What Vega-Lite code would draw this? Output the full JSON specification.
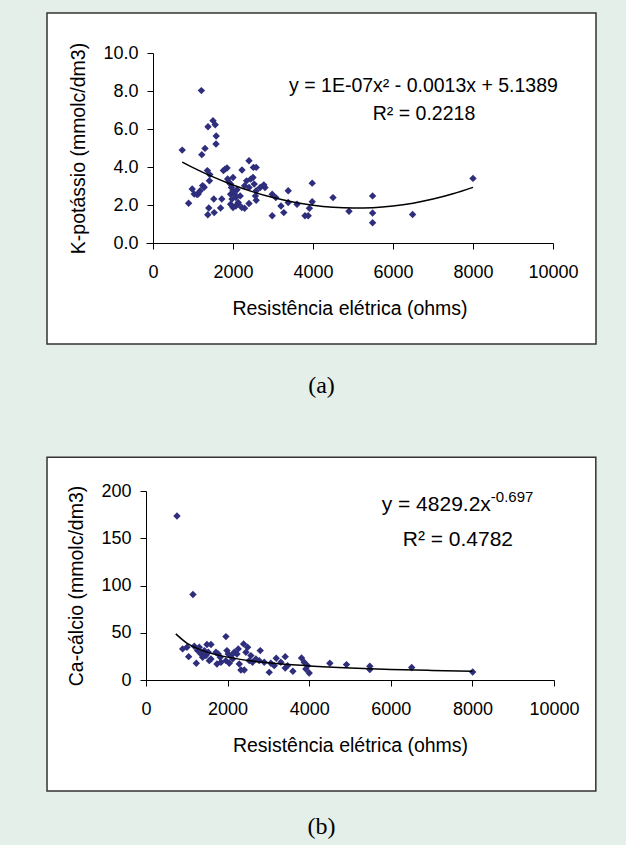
{
  "$schema": "https://vega.github.io/schema/vega-lite/v6.json",
  "background": "#e4efe9",
  "padding": {"left": 46, "top": 12, "right": 30, "bottom": 12},
  "autosize": {"type": "pad"},
  "config": {
    "view": {"stroke": null},
    "font": "Liberation Sans",
    "axis": {"grid": false, "domainColor": "#000000", "tickColor": "#000000", "labelColor": "#000000", "titleColor": "#000000", "labelFont": "Liberation Sans", "titleFont": "Liberation Sans", "labelFontSize": 18, "titleFontSize": 19.5, "titleFontWeight": "normal", "tickSize": 6, "domainWidth": 1, "tickWidth": 1, "labelOverlap": false, "labelFlush": false},
    "axisX": {"labelPadding": 14, "titlePadding": 18},
    "axisY": {"labelPadding": 9, "titlePadding": 14},
    "title": {"font": "Liberation Serif", "fontSize": 24, "fontWeight": "normal", "color": "#000000", "orient": "bottom", "anchor": "middle", "frame": "bounds"}
  },
  "spacing": 58,
  "vconcat": [
    {
      "width": 407,
      "height": 190,
      "title": {"text": "(a)", "offset": 29},
      "layer": [
        {
          "data": {"values": [{}]},
          "mark": {"type": "rect", "fill": "#ffffff", "stroke": "#333333", "strokeWidth": 1.5},
          "encoding": {
            "x": {"datum": -2650, "type": "quantitative", "scale": {"domain": [-175, 10000], "nice": false, "zero": false}, "axis": {"values": [0, 2000, 4000, 6000, 8000, 10000], "format": "d", "title": "Resistência elétrica (ohms)", "zindex": 1}},
            "x2": {"datum": 11075},
            "y": {"datum": 12.105, "type": "quantitative", "scale": {"domain": [0, 10], "nice": false}, "axis": {"values": [0, 2, 4, 6, 8, 10], "format": ".1f", "title": "K-potássio (mmolc/dm3)", "offset": -7, "zindex": 1}},
            "y2": {"datum": -5.316}
          }
        },
        {
          "data": {"values": [
            {"resistencia": 730, "k": 4.89}, {"resistencia": 890, "k": 2.09}, {"resistencia": 980, "k": 2.84}, {"resistencia": 1030, "k": 2.58},
            {"resistencia": 1100, "k": 2.55}, {"resistencia": 1130, "k": 2.58}, {"resistencia": 1180, "k": 2.75}, {"resistencia": 1210, "k": 8.02},
            {"resistencia": 1220, "k": 4.65}, {"resistencia": 1240, "k": 3.02}, {"resistencia": 1280, "k": 2.93}, {"resistencia": 1300, "k": 4.98},
            {"resistencia": 1360, "k": 3.81}, {"resistencia": 1375, "k": 6.12}, {"resistencia": 1370, "k": 1.49}, {"resistencia": 1395, "k": 1.84},
            {"resistencia": 1410, "k": 3.28}, {"resistencia": 1420, "k": 3.6}, {"resistencia": 1500, "k": 6.44}, {"resistencia": 1520, "k": 2.32},
            {"resistencia": 1530, "k": 1.6}, {"resistencia": 1555, "k": 6.22}, {"resistencia": 1580, "k": 5.63}, {"resistencia": 1575, "k": 5.21},
            {"resistencia": 1690, "k": 1.84}, {"resistencia": 1720, "k": 2.32}, {"resistencia": 1760, "k": 3.81}, {"resistencia": 1800, "k": 3.89},
            {"resistencia": 1850, "k": 3.95}, {"resistencia": 1866, "k": 3.37}, {"resistencia": 1900, "k": 3.2}, {"resistencia": 1940, "k": 3.1},
            {"resistencia": 1960, "k": 2.92}, {"resistencia": 2000, "k": 3.45}, {"resistencia": 2000, "k": 2.75}, {"resistencia": 1940, "k": 2.57},
            {"resistencia": 2040, "k": 2.57}, {"resistencia": 1975, "k": 2.31}, {"resistencia": 2070, "k": 2.39}, {"resistencia": 1940, "k": 2.04},
            {"resistencia": 2000, "k": 1.87}, {"resistencia": 2070, "k": 1.95}, {"resistencia": 2130, "k": 2.13}, {"resistencia": 2180, "k": 2.48},
            {"resistencia": 2100, "k": 2.8}, {"resistencia": 2130, "k": 2.05}, {"resistencia": 2225, "k": 3.84}, {"resistencia": 2220, "k": 1.87},
            {"resistencia": 2290, "k": 1.83}, {"resistencia": 2290, "k": 3.01}, {"resistencia": 2340, "k": 3.27}, {"resistencia": 2400, "k": 4.33},
            {"resistencia": 2400, "k": 2.92}, {"resistencia": 2400, "k": 2.08}, {"resistencia": 2440, "k": 3.36}, {"resistencia": 2500, "k": 3.45},
            {"resistencia": 2510, "k": 3.98}, {"resistencia": 2580, "k": 3.98}, {"resistencia": 2530, "k": 3.1}, {"resistencia": 2580, "k": 2.75},
            {"resistencia": 2560, "k": 2.48}, {"resistencia": 2580, "k": 2.25}, {"resistencia": 2680, "k": 2.92}, {"resistencia": 2770, "k": 3.06},
            {"resistencia": 2800, "k": 2.92}, {"resistencia": 2980, "k": 2.57}, {"resistencia": 3070, "k": 2.39}, {"resistencia": 2980, "k": 1.43},
            {"resistencia": 3200, "k": 1.95}, {"resistencia": 3270, "k": 1.6}, {"resistencia": 3380, "k": 2.75}, {"resistencia": 3380, "k": 2.13},
            {"resistencia": 3600, "k": 2.04}, {"resistencia": 3800, "k": 1.43}, {"resistencia": 3880, "k": 1.43}, {"resistencia": 3910, "k": 1.83},
            {"resistencia": 3980, "k": 3.15}, {"resistencia": 3980, "k": 2.17}, {"resistencia": 4500, "k": 2.39}, {"resistencia": 4900, "k": 1.67},
            {"resistencia": 5490, "k": 2.48}, {"resistencia": 5490, "k": 1.58}, {"resistencia": 5490, "k": 1.07}, {"resistencia": 6490, "k": 1.5},
            {"resistencia": 8000, "k": 3.4}
          ]},
          "mark": {"type": "point", "shape": "diamond", "filled": true, "color": "#2e2e7c", "size": 55, "opacity": 1},
          "encoding": {
            "x": {"field": "resistencia", "type": "quantitative", "scale": {"domain": [-175, 10000], "nice": false, "zero": false}, "axis": {"values": [0, 2000, 4000, 6000, 8000, 10000], "format": "d", "title": "Resistência elétrica (ohms)", "zindex": 1}},
            "y": {"field": "k", "type": "quantitative", "scale": {"domain": [0, 10], "nice": false}, "axis": {"values": [0, 2, 4, 6, 8, 10], "format": ".1f", "title": "K-potássio (mmolc/dm3)", "offset": -7, "zindex": 1}}
          }
        },
        {
          "data": {"values": [
            {"resistencia": 730, "k": 4.258}, {"resistencia": 1000, "k": 3.967}, {"resistencia": 1500, "k": 3.477}, {"resistencia": 2000, "k": 3.051},
            {"resistencia": 2500, "k": 2.689}, {"resistencia": 3000, "k": 2.391}, {"resistencia": 3500, "k": 2.157}, {"resistencia": 4000, "k": 1.987},
            {"resistencia": 4500, "k": 1.881}, {"resistencia": 5000, "k": 1.839}, {"resistencia": 5500, "k": 1.861}, {"resistencia": 6000, "k": 1.947},
            {"resistencia": 6500, "k": 2.097}, {"resistencia": 7000, "k": 2.311}, {"resistencia": 7500, "k": 2.589}, {"resistencia": 8000, "k": 2.931}
          ]},
          "mark": {"type": "line", "color": "#000000", "strokeWidth": 1.5, "interpolate": "monotone"},
          "encoding": {
            "x": {"field": "resistencia", "type": "quantitative", "scale": {"domain": [-175, 10000], "nice": false, "zero": false}, "axis": {"values": [0, 2000, 4000, 6000, 8000, 10000], "format": "d", "title": "Resistência elétrica (ohms)", "zindex": 1}},
            "y": {"field": "k", "type": "quantitative", "scale": {"domain": [0, 10], "nice": false}, "axis": {"values": [0, 2, 4, 6, 8, 10], "format": ".1f", "title": "K-potássio (mmolc/dm3)", "offset": -7, "zindex": 1}}
          }
        },
        {
          "data": {"values": [{}]},
          "mark": {"type": "text", "text": "y = 1E-07x² - 0.0013x + 5.1389", "font": "Liberation Sans", "fontSize": 19.5, "color": "#000000", "align": "center", "baseline": "middle"},
          "encoding": {
            "x": {"datum": 6762, "type": "quantitative", "scale": {"domain": [-175, 10000], "nice": false, "zero": false}, "axis": {"values": [0, 2000, 4000, 6000, 8000, 10000], "format": "d", "title": "Resistência elétrica (ohms)", "zindex": 1}},
            "y": {"datum": 8.26, "type": "quantitative", "scale": {"domain": [0, 10], "nice": false}, "axis": {"values": [0, 2, 4, 6, 8, 10], "format": ".1f", "title": "K-potássio (mmolc/dm3)", "offset": -7, "zindex": 1}}
          }
        },
        {
          "data": {"values": [{}]},
          "mark": {"type": "text", "text": "R² = 0.2218", "font": "Liberation Sans", "fontSize": 19.5, "color": "#000000", "align": "center", "baseline": "middle"},
          "encoding": {
            "x": {"datum": 6775, "type": "quantitative", "scale": {"domain": [-175, 10000], "nice": false, "zero": false}, "axis": {"values": [0, 2000, 4000, 6000, 8000, 10000], "format": "d", "title": "Resistência elétrica (ohms)", "zindex": 1}},
            "y": {"datum": 6.79, "type": "quantitative", "scale": {"domain": [0, 10], "nice": false}, "axis": {"values": [0, 2, 4, 6, 8, 10], "format": ".1f", "title": "K-potássio (mmolc/dm3)", "offset": -7, "zindex": 1}}
          }
        }
      ]
    },
    {
      "width": 408,
      "height": 189,
      "title": {"text": "(b)", "offset": 23},
      "layer": [
        {
          "data": {"values": [{}]},
          "mark": {"type": "rect", "fill": "#ffffff", "stroke": "#333333", "strokeWidth": 1.5},
          "encoding": {
            "x": {"datum": -2426, "type": "quantitative", "scale": {"domain": [0, 10000], "nice": false}, "axis": {"values": [0, 2000, 4000, 6000, 8000, 10000], "format": "d", "title": "Resistência elétrica (ohms)", "zindex": 1}},
            "x2": {"datum": 11025},
            "y": {"datum": 235.7, "type": "quantitative", "scale": {"domain": [0, 200], "nice": false}, "axis": {"values": [0, 50, 100, 150, 200], "format": "d", "title": "Ca-cálcio (mmolc/dm3)", "zindex": 1}},
            "y2": {"datum": -117.4}
          }
        },
        {
          "data": {"values": [
            {"resistencia": 759, "ca": 173.5}, {"resistencia": 1151, "ca": 90.5}, {"resistencia": 898, "ca": 32.9}, {"resistencia": 1004, "ca": 34.6},
            {"resistencia": 1045, "ca": 24.7}, {"resistencia": 1233, "ca": 17.7}, {"resistencia": 1184, "ca": 35.7}, {"resistencia": 1265, "ca": 31.1},
            {"resistencia": 1347, "ca": 27.6}, {"resistencia": 1429, "ca": 31.1}, {"resistencia": 1494, "ca": 37.5}, {"resistencia": 1592, "ca": 37.5},
            {"resistencia": 1388, "ca": 24}, {"resistencia": 1469, "ca": 25.8}, {"resistencia": 1551, "ca": 20.5}, {"resistencia": 1592, "ca": 22.3},
            {"resistencia": 1306, "ca": 34.6}, {"resistencia": 1527, "ca": 29.3}, {"resistencia": 1714, "ca": 29.3}, {"resistencia": 1771, "ca": 27.6},
            {"resistencia": 1739, "ca": 17}, {"resistencia": 1837, "ca": 18.7}, {"resistencia": 1820, "ca": 24}, {"resistencia": 1959, "ca": 45.9},
            {"resistencia": 1984, "ca": 31.1}, {"resistencia": 2016, "ca": 27.6}, {"resistencia": 1959, "ca": 20.5}, {"resistencia": 2041, "ca": 17.7},
            {"resistencia": 2082, "ca": 25.8}, {"resistencia": 2122, "ca": 22.3}, {"resistencia": 2163, "ca": 29.3}, {"resistencia": 2229, "ca": 27.6},
            {"resistencia": 2261, "ca": 32.9}, {"resistencia": 2286, "ca": 17}, {"resistencia": 2327, "ca": 10.6}, {"resistencia": 2408, "ca": 10.6},
            {"resistencia": 2392, "ca": 38.2}, {"resistencia": 2490, "ca": 34.6}, {"resistencia": 2449, "ca": 29.3}, {"resistencia": 2531, "ca": 20.5},
            {"resistencia": 2571, "ca": 25.8}, {"resistencia": 2612, "ca": 18.7}, {"resistencia": 2694, "ca": 22.3}, {"resistencia": 2800, "ca": 31.1},
            {"resistencia": 2775, "ca": 20.5}, {"resistencia": 2898, "ca": 18.7}, {"resistencia": 3020, "ca": 8.1}, {"resistencia": 3061, "ca": 17.7},
            {"resistencia": 3143, "ca": 15.2}, {"resistencia": 3192, "ca": 23}, {"resistencia": 3306, "ca": 18.7}, {"resistencia": 3412, "ca": 24.7},
            {"resistencia": 3412, "ca": 12.7}, {"resistencia": 3469, "ca": 15.2}, {"resistencia": 3600, "ca": 9.2}, {"resistencia": 3812, "ca": 23.3},
            {"resistencia": 3877, "ca": 18.7}, {"resistencia": 3918, "ca": 11.7}, {"resistencia": 3959, "ca": 15.2}, {"resistencia": 4000, "ca": 7.4},
            {"resistencia": 4506, "ca": 17.7}, {"resistencia": 4914, "ca": 16.3}, {"resistencia": 5486, "ca": 14.5}, {"resistencia": 5486, "ca": 11},
            {"resistencia": 6512, "ca": 13.3}, {"resistencia": 8007, "ca": 8.4}
          ]},
          "mark": {"type": "point", "shape": "diamond", "filled": true, "color": "#2e2e7c", "size": 55, "opacity": 1},
          "encoding": {
            "x": {"field": "resistencia", "type": "quantitative", "scale": {"domain": [0, 10000], "nice": false}, "axis": {"values": [0, 2000, 4000, 6000, 8000, 10000], "format": "d", "title": "Resistência elétrica (ohms)", "zindex": 1}},
            "y": {"field": "ca", "type": "quantitative", "scale": {"domain": [0, 200], "nice": false}, "axis": {"values": [0, 50, 100, 150, 200], "format": "d", "title": "Ca-cálcio (mmolc/dm3)", "zindex": 1}}
          }
        },
        {
          "data": {"values": [
            {"resistencia": 730, "ca": 48.8}, {"resistencia": 1000, "ca": 39.1}, {"resistencia": 1250, "ca": 33.5}, {"resistencia": 1500, "ca": 29.5},
            {"resistencia": 2000, "ca": 24.2}, {"resistencia": 2500, "ca": 20.7}, {"resistencia": 3000, "ca": 18.2}, {"resistencia": 3500, "ca": 16.3},
            {"resistencia": 4000, "ca": 14.9}, {"resistencia": 5000, "ca": 12.75}, {"resistencia": 6000, "ca": 11.2}, {"resistencia": 7000, "ca": 10.1},
            {"resistencia": 8000, "ca": 9.19}
          ]},
          "mark": {"type": "line", "color": "#000000", "strokeWidth": 1.5, "interpolate": "monotone"},
          "encoding": {
            "x": {"field": "resistencia", "type": "quantitative", "scale": {"domain": [0, 10000], "nice": false}, "axis": {"values": [0, 2000, 4000, 6000, 8000, 10000], "format": "d", "title": "Resistência elétrica (ohms)", "zindex": 1}},
            "y": {"field": "ca", "type": "quantitative", "scale": {"domain": [0, 200], "nice": false}, "axis": {"values": [0, 50, 100, 150, 200], "format": "d", "title": "Ca-cálcio (mmolc/dm3)", "zindex": 1}}
          }
        },
        {
          "data": {"values": [{}]},
          "mark": {"type": "text", "text": "y = 4829.2x", "font": "Liberation Sans", "fontSize": 21, "color": "#000000", "align": "right", "baseline": "middle"},
          "encoding": {
            "x": {"datum": 8452, "type": "quantitative", "scale": {"domain": [0, 10000], "nice": false}, "axis": {"values": [0, 2000, 4000, 6000, 8000, 10000], "format": "d", "title": "Resistência elétrica (ohms)", "zindex": 1}},
            "y": {"datum": 184.8, "type": "quantitative", "scale": {"domain": [0, 200], "nice": false}, "axis": {"values": [0, 50, 100, 150, 200], "format": "d", "title": "Ca-cálcio (mmolc/dm3)", "zindex": 1}}
          }
        },
        {
          "data": {"values": [{}]},
          "mark": {"type": "text", "text": "-0.697", "font": "Liberation Sans", "fontSize": 15, "color": "#000000", "align": "left", "baseline": "middle"},
          "encoding": {
            "x": {"datum": 8452, "type": "quantitative", "scale": {"domain": [0, 10000], "nice": false}, "axis": {"values": [0, 2000, 4000, 6000, 8000, 10000], "format": "d", "title": "Resistência elétrica (ohms)", "zindex": 1}},
            "y": {"datum": 193.3, "type": "quantitative", "scale": {"domain": [0, 200], "nice": false}, "axis": {"values": [0, 50, 100, 150, 200], "format": "d", "title": "Ca-cálcio (mmolc/dm3)", "zindex": 1}}
          }
        },
        {
          "data": {"values": [{}]},
          "mark": {"type": "text", "text": "R² = 0.4782", "font": "Liberation Sans", "fontSize": 21, "color": "#000000", "align": "center", "baseline": "middle"},
          "encoding": {
            "x": {"datum": 7644, "type": "quantitative", "scale": {"domain": [0, 10000], "nice": false}, "axis": {"values": [0, 2000, 4000, 6000, 8000, 10000], "format": "d", "title": "Resistência elétrica (ohms)", "zindex": 1}},
            "y": {"datum": 147.7, "type": "quantitative", "scale": {"domain": [0, 200], "nice": false}, "axis": {"values": [0, 50, 100, 150, 200], "format": "d", "title": "Ca-cálcio (mmolc/dm3)", "zindex": 1}}
          }
        }
      ]
    }
  ]
}
